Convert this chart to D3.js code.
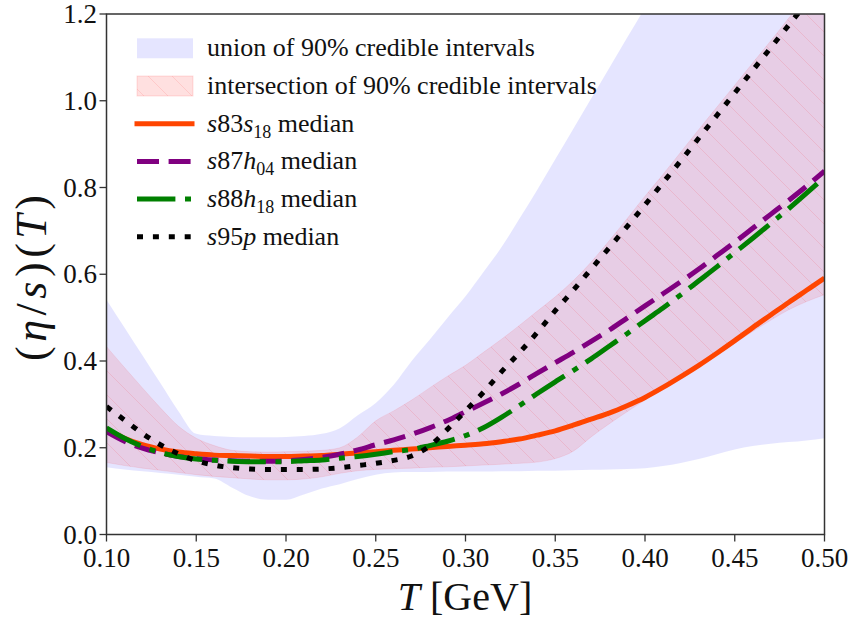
<!DOCTYPE html>
<meta charset="utf-8">
<script src="https://d3js.org/d3.v7.min.js"></script>
<style>
  body { margin: 0; background: #fff; }
</style>
<div id="chart"></div>
<script>

// temperature grid [GeV]
var temps = [0.10, 0.11, 0.12, 0.13, 0.14, 0.15, 0.16, 0.17, 0.18, 0.19,
             0.20, 0.21, 0.22, 0.23, 0.24, 0.25, 0.26, 0.27, 0.28, 0.29,
             0.30, 0.31, 0.32, 0.33, 0.34, 0.35, 0.36, 0.37, 0.38, 0.39,
             0.40, 0.41, 0.42, 0.43, 0.44, 0.45, 0.46, 0.47, 0.48, 0.49, 0.50];

// union of 90% credible intervals
var unionLow = [0.155, 0.150, 0.146, 0.142, 0.138, 0.133, 0.129, 0.108, 0.088, 0.080,
                0.080, 0.092, 0.106, 0.116, 0.128, 0.138, 0.143, 0.144, 0.144, 0.145,
                0.145, 0.145, 0.146, 0.146, 0.147, 0.147, 0.148, 0.149, 0.150, 0.151,
                0.153, 0.158, 0.165, 0.174, 0.185, 0.196, 0.204, 0.209, 0.213, 0.217, 0.222];
var unionHigh = [0.541, 0.477, 0.413, 0.349, 0.285, 0.232, 0.227, 0.225, 0.224, 0.224,
                 0.225, 0.227, 0.232, 0.245, 0.275, 0.303, 0.345, 0.400, 0.449, 0.500,
                 0.549, 0.605, 0.662, 0.728, 0.795, 0.865, 0.935, 1.005, 1.075, 1.145,
                 1.215, 1.29, 1.36, 1.43, 1.50, 1.57, 1.64, 1.71, 1.78, 1.85, 1.92];

// intersection of 90% credible intervals
var interLow = [0.166, 0.159, 0.153, 0.148, 0.143, 0.138, 0.134, 0.131, 0.128, 0.126,
                0.126, 0.128, 0.133, 0.141, 0.147, 0.150, 0.152, 0.153, 0.155, 0.156,
                0.158, 0.160, 0.162, 0.164, 0.167, 0.175, 0.192, 0.225, 0.255, 0.283,
                0.310, 0.335, 0.360, 0.387, 0.414, 0.441, 0.468, 0.494, 0.518, 0.537, 0.553];
var interHigh = [0.433, 0.385, 0.338, 0.292, 0.250, 0.222, 0.205, 0.194, 0.191, 0.190,
                 0.191, 0.192, 0.194, 0.200, 0.225, 0.262, 0.285, 0.310, 0.338, 0.365,
                 0.390, 0.420, 0.450, 0.482, 0.515, 0.548, 0.585, 0.628, 0.677, 0.728,
                 0.780, 0.830, 0.882, 0.934, 0.985, 1.036, 1.087, 1.138, 1.190, 1.245, 1.30];

// medians
var s83s18 = [0.243, 0.222, 0.207, 0.197, 0.190, 0.186, 0.183, 0.182, 0.181, 0.180,
              0.180, 0.181, 0.182, 0.185, 0.188, 0.191, 0.194, 0.197, 0.200, 0.203,
              0.206, 0.209, 0.214, 0.220, 0.229, 0.239, 0.252, 0.266, 0.280, 0.297,
              0.316, 0.339, 0.364, 0.390, 0.418, 0.447, 0.477, 0.506, 0.535, 0.563, 0.591];
var s87h04 = [0.237, 0.215, 0.199, 0.188, 0.180, 0.175, 0.172, 0.170, 0.169, 0.169,
              0.170, 0.173, 0.178, 0.185, 0.195, 0.207, 0.218, 0.231, 0.246, 0.263,
              0.283, 0.303, 0.324, 0.347, 0.372, 0.396, 0.420, 0.445, 0.471, 0.499,
              0.527, 0.555, 0.583, 0.612, 0.643, 0.674, 0.706, 0.738, 0.770, 0.803, 0.838];
var s88h18 = [0.246, 0.222, 0.203, 0.189, 0.180, 0.174, 0.171, 0.169, 0.168, 0.168,
              0.168, 0.170, 0.172, 0.176, 0.180, 0.185, 0.191, 0.196, 0.205, 0.215,
              0.228, 0.246, 0.270, 0.297, 0.325, 0.352, 0.378, 0.405, 0.434, 0.463,
              0.493, 0.522, 0.553, 0.585, 0.617, 0.650, 0.683, 0.717, 0.751, 0.787, 0.824];
var s95p = [0.295, 0.264, 0.233, 0.207, 0.186, 0.170, 0.160, 0.154, 0.151, 0.150,
            0.150, 0.150, 0.151, 0.154, 0.159, 0.164, 0.171, 0.181, 0.204, 0.243,
            0.285, 0.328, 0.375, 0.419, 0.466, 0.516, 0.563, 0.612, 0.661, 0.710,
            0.760, 0.811, 0.862, 0.914, 0.966, 1.018, 1.070, 1.122, 1.174, 1.226, 1.278];

var xTicks = [0.10, 0.15, 0.20, 0.25, 0.30, 0.35, 0.40, 0.45, 0.50];
var yTicks = [0.0, 0.2, 0.4, 0.6, 0.8, 1.0, 1.2];

var W = 853, H = 624;
var plot = {left: 106.5, right: 824.5, top: 14, bottom: 534.5};
var serif = "'Liberation Serif', 'Times New Roman', Times, serif";

var svg = d3.select("#chart").append("svg")
    .attr("width", W)
    .attr("height", H)
    .attr("font-family", serif);

var x = d3.scaleLinear().domain([0.10, 0.50]).range([plot.left, plot.right]);
var y = d3.scaleLinear().domain([0, 1.2]).range([plot.bottom, plot.top]);

var defs = svg.append("defs");
defs.append("clipPath").attr("id", "clip")
  .append("rect")
    .attr("x", plot.left).attr("y", plot.top)
    .attr("width", plot.right - plot.left).attr("height", plot.bottom - plot.top);

// hatch for the intersection band
var hs = 24;
var hatch = defs.append("pattern")
    .attr("id", "hatch")
    .attr("patternUnits", "userSpaceOnUse")
    .attr("width", hs).attr("height", hs);
[[0, 0, hs, hs], [-2, hs - 2, 2, hs + 2], [hs - 2, -2, hs + 2, 2]].forEach(function(s) {
  hatch.append("line")
    .attr("x1", s[0]).attr("y1", s[1]).attr("x2", s[2]).attr("y2", s[3])
    .attr("stroke", "red").attr("stroke-opacity", 0.1).attr("stroke-width", 1);
});

var bands = temps.map(function(t, i) {
  return {t: t, ul: unionLow[i], uh: unionHigh[i], il: interLow[i], ih: interHigh[i]};
});

var g = svg.append("g").attr("clip-path", "url(#clip)");

var unionArea = d3.area()
    .x(function(d) { return x(d.t); })
    .y0(function(d) { return y(d.ul); })
    .y1(function(d) { return y(d.uh); })
    .curve(d3.curveMonotoneX);
var interArea = d3.area()
    .x(function(d) { return x(d.t); })
    .y0(function(d) { return y(d.il); })
    .y1(function(d) { return y(d.ih); })
    .curve(d3.curveMonotoneX);

g.append("path").attr("d", unionArea(bands))
  .attr("fill", "blue").attr("fill-opacity", 0.1);
g.append("path").attr("d", interArea(bands))
  .attr("fill", "red").attr("fill-opacity", 0.1)
  .attr("stroke", "red").attr("stroke-opacity", 0.08).attr("stroke-width", 1);
g.append("path").attr("d", interArea(bands))
  .attr("fill", "url(#hatch)");

var series = [
  {name: "s83s18", values: s83s18, color: "#ff4500", dash: null},
  {name: "s87h04", values: s87h04, color: "purple", dash: "22,9.6"},
  {name: "s88h18", values: s88h18, color: "green", dash: "38.4,9.6,6,9.6"},
  {name: "s95p", values: s95p, color: "black", dash: "6,9.9"}
];

var line = d3.line()
    .x(function(d) { return x(d[0]); })
    .y(function(d) { return y(d[1]); })
    .curve(d3.curveMonotoneX);

series.forEach(function(s) {
  var pts = temps.map(function(t, i) { return [t, s.values[i]]; });
  g.append("path")
    .attr("d", line(pts))
    .attr("fill", "none")
    .attr("stroke", s.color)
    .attr("stroke-width", 5)
    .attr("stroke-dasharray", s.dash)
    .attr("stroke-linecap", "butt");
});

// frame
svg.append("rect")
  .attr("x", plot.left).attr("y", plot.top)
  .attr("width", plot.right - plot.left).attr("height", plot.bottom - plot.top)
  .attr("fill", "none").attr("stroke", "#333").attr("stroke-width", 1.5);

// ticks
svg.selectAll(".xt").data(xTicks).enter().append("line")
  .attr("x1", function(d) { return x(d); }).attr("x2", function(d) { return x(d); })
  .attr("y1", plot.bottom).attr("y2", plot.bottom + 7)
  .attr("stroke", "#333").attr("stroke-width", 1.3);
svg.selectAll(".xl").data(xTicks).enter().append("text")
  .attr("x", function(d) { return x(d); })
  .attr("y", 567)
  .attr("text-anchor", "middle")
  .attr("font-family", serif)
  .attr("font-size", 27)
  .attr("fill", "#111")
  .text(function(d) { return d.toFixed(2); });

svg.selectAll(".yt").data(yTicks).enter().append("line")
  .attr("x1", plot.left - 7).attr("x2", plot.left)
  .attr("y1", function(d) { return y(d); }).attr("y2", function(d) { return y(d); })
  .attr("stroke", "#333").attr("stroke-width", 1.3);
svg.selectAll(".yl").data(yTicks).enter().append("text")
  .attr("x", 97)
  .attr("y", function(d) { return y(d) + 9; })
  .attr("text-anchor", "end")
  .attr("font-family", serif)
  .attr("font-size", 27)
  .attr("fill", "#111")
  .text(function(d) { return d.toFixed(1); });

// axis labels
var xl = svg.append("text")
  .attr("x", 465).attr("y", 610)
  .attr("text-anchor", "middle")
  .attr("font-family", serif)
  .attr("font-size", 40)
  .attr("fill", "#111");
xl.append("tspan").attr("font-style", "italic").text("T");
xl.append("tspan").text(" [GeV]");

var yl = svg.append("text")
  .attr("transform", "translate(46,278) rotate(-90)")
  .attr("text-anchor", "middle")
  .attr("textLength", 166)
  .attr("font-family", serif)
  .attr("font-size", 44)
  .attr("fill", "#111");
yl.append("tspan").text("(");
yl.append("tspan").attr("font-style", "italic").text("η");
yl.append("tspan").text("/");
yl.append("tspan").attr("font-style", "italic").text("s");
yl.append("tspan").text(")(");
yl.append("tspan").attr("font-style", "italic").text("T");
yl.append("tspan").text(")");

// legend
var legendRows = [
  {kind: "union", parts: [["union of 90% credible intervals", "n"]]},
  {kind: "inter", parts: [["intersection of 90% credible intervals", "n"]]},
  {kind: 0, parts: [["s", "i"], ["83", "n"], ["s", "i"], ["18", "sub"], [" median", "n"]]},
  {kind: 1, parts: [["s", "i"], ["87", "n"], ["h", "i"], ["04", "sub"], [" median", "n"]]},
  {kind: 2, parts: [["s", "i"], ["88", "n"], ["h", "i"], ["18", "sub"], [" median", "n"]]},
  {kind: 3, parts: [["s", "i"], ["95", "n"], ["p", "i"], [" median", "n"]]}
];

legendRows.forEach(function(r, i) {
  var cy = 48.3 + i * 37.7;
  if (r.kind === "union") {
    svg.append("rect").attr("x", 137).attr("y", cy - 10).attr("width", 56).attr("height", 20)
      .attr("fill", "blue").attr("fill-opacity", 0.1);
  } else if (r.kind === "inter") {
    svg.append("rect").attr("x", 137).attr("y", cy - 10).attr("width", 56).attr("height", 20)
      .attr("fill", "red").attr("fill-opacity", 0.12)
      .attr("stroke", "red").attr("stroke-opacity", 0.12);
    svg.append("rect").attr("x", 137).attr("y", cy - 10).attr("width", 56).attr("height", 20)
      .attr("fill", "url(#hatch)");
  } else {
    var s = series[r.kind];
    svg.append("line")
      .attr("x1", 137).attr("x2", 192).attr("y1", cy).attr("y2", cy)
      .attr("stroke", s.color).attr("stroke-width", 5)
      .attr("stroke-dasharray", s.dash)
      .attr("stroke-linecap", s.dash ? "butt" : "square");
  }
  var t = svg.append("text")
    .attr("x", 207).attr("y", cy + 8)
    .attr("font-family", serif)
    .attr("font-size", 26)
    .attr("fill", "#111");
  var sub = false;
  r.parts.forEach(function(p) {
    var ts = t.append("tspan").text(p[0]);
    if (p[1] === "i") ts.attr("font-style", "italic");
    if (p[1] === "sub") {
      ts.attr("font-size", 18).attr("dy", 6);
      sub = true;
    } else if (sub) {
      ts.attr("dy", -6);
      sub = false;
    }
  });
});

</script>
